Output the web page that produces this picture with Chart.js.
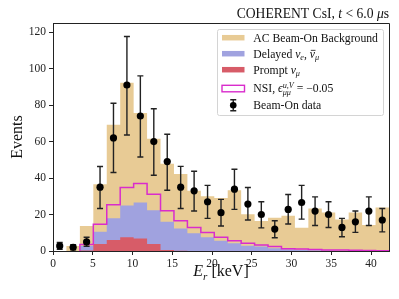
<!DOCTYPE html>
<html>
<head>
<meta charset="utf-8">
<script src="https://cdn.jsdelivr.net/npm/chart.js@4.4.1/dist/chart.umd.min.js"></script>
<style>
  html, body { margin: 0; padding: 0; background: #fff; }
  canvas { display: block; }
</style>
</head>
<body>
<canvas id="chart" width="399" height="299"></canvas>
<script>
// bin edges in keV (25 bins)
const binEdges = [0, 1.69, 3.38, 5.07, 6.76, 8.45, 10.14, 11.83, 13.52, 15.21, 16.9, 18.59, 20.28,
  21.97, 23.66, 25.35, 27.04, 28.73, 30.42, 32.11, 33.8, 35.49, 37.18, 38.87, 40.56, 42.25];

// stacked heights as drawn: background on top of delayed + prompt
const acBackgroundTop = [0, 2.7, 13.7, 36.6, 69.2, 92.2, 75.6, 61.6, 47.9, 42.2, 33, 30, 29,
  33.3, 20.2, 16.4, 18.2, 19.3, 12.7, 23.3, 21.1, 17.3, 21.1, 14.2, 23.9];
const delayedTop = [0, 0, 2.7, 10.6, 18, 25, 26.6, 22.4, 16, 12.4, 9.7, 7.5, 5.6,
  4.2, 2.9, 2.4, 1.5, 0.9, 0.6, 0.4, 0.3, 0.2, 0.1, 0.1, 0.05];
const promptNuMu = [0, 0, 0.3, 3.8, 6, 7.6, 6.9, 3.8, 0.6, 0.1, 0, 0, 0,
  0, 0, 0, 0, 0, 0, 0, 0, 0, 0, 0, 0];
const nsiPrediction = [null, null, 3.6, 14.6, 25.3, 34.8, 37, 31.1, 22, 16.6, 12.9, 10.2, 7.5,
  5.6, 4.2, 3.3, 2.4, 1.3, 1.1, 0.8, 0.6, 0.5, 0.4, 0.3, 0.2];

// beam-on data with asymmetric errors
const beamOnData = [2.8, 2, 5, 35, 62, 91, 74, 60, 49, 35, 33, 27, 21,
  33.9, 25.7, 20, 12, 22.8, 26.6, 21.9, 20, 12.9, 16, 21.9, 17];
const errUp = [1.9, 1.4, 2.5, 11.3, 19, 26.6, 22, 18, 15, 11.4, 10.7, 9, 7.3,
  10.9, 9.1, 7, 4.6, 8.2, 9.4, 7.8, 7, 5, 5.9, 7.8, 6.3];
const errDown = [1.9, 1.4, 2.4, 11.7, 19, 27.4, 22.5, 18.5, 15.7, 11.7, 11.1, 9.1, 7.3,
  11.1, 8.7, 7.3, 4.7, 8, 9.1, 7.9, 7.1, 5.1, 5.8, 7.9, 6.5];

const xTicks = [0, 5, 10, 15, 20, 25, 30, 35, 40];
const yTicks = [0, 20, 40, 60, 80, 100, 120];

const SERIF = '"Liberation Serif", "DejaVu Serif", serif';
const C_TAN = '#e8cb95';
const C_BLUE = '#a0a2df';
const C_RED = '#d75c68';
const C_MAG = '#d92ccc';

// left-edge points + closing right edge, drawn with stepped 'before'
function steps(vals) {
  const pts = [];
  let started = false;
  vals.forEach((v, i) => {
    if (v === null) return;
    if (!started && i > 0) pts.push({ x: binEdges[i], y: 0 });
    started = true;
    pts.push({ x: binEdges[i], y: v });
  });
  pts.push({ x: binEdges[vals.length], y: vals[vals.length - 1] });
  return pts;
}

const centers = beamOnData.map((v, i) => ({ x: (binEdges[i] + binEdges[i + 1]) / 2, y: v }));

// text with italic / sub / sup pieces
function richWidth(ctx, parts, size) {
  let w = 0, lastStart = 0, lastW = 0;
  parts.forEach(p => {
    const s = (p.sub || p.sup) ? size * 0.7 : size;
    ctx.font = (p.it ? 'italic ' : '') + s + 'px ' + SERIF;
    const pw = ctx.measureText(p.t).width;
    if (p.under) { w = lastStart + Math.max(lastW, pw); lastW = Math.max(lastW, pw); return; }
    lastStart = w; lastW = pw; w += pw;
  });
  return w;
}
function drawRich(ctx, parts, x, y, size, align) {
  const total = richWidth(ctx, parts, size);
  let cx = align === 'right' ? x - total : align === 'center' ? x - total / 2 : x;
  let lastStart = cx, lastW = 0;
  ctx.textBaseline = 'alphabetic';
  ctx.textAlign = 'left';
  parts.forEach(p => {
    const s = (p.sub || p.sup) ? size * 0.7 : size;
    ctx.font = (p.it ? 'italic ' : '') + s + 'px ' + SERIF;
    const pw = ctx.measureText(p.t).width;
    let dy = p.sub ? size * 0.22 : p.sup ? -size * 0.4 : 0;
    let px = p.under ? lastStart : cx;
    ctx.fillText(p.t, px, y + dy);
    if (p.bar) {
      ctx.save();
      ctx.lineWidth = 0.8;
      ctx.beginPath();
      ctx.moveTo(px + 1, y + dy - s * 0.62);
      ctx.lineTo(px + pw + 0.5, y + dy - s * 0.62);
      ctx.stroke();
      ctx.restore();
    }
    if (p.under) { cx = lastStart + Math.max(lastW, pw); return; }
    lastStart = cx; lastW = pw; cx += pw;
  });
}

const errorBars = {
  id: 'errorBars',
  beforeDatasetDraw(chart, args) {
    if (chart.data.datasets[args.index].label !== 'Beam-On data') return;
    const { ctx, scales: { x, y } } = chart;
    ctx.save();
    ctx.strokeStyle = '#222';
    ctx.lineWidth = 1.4;
    centers.forEach((p, i) => {
      const px = x.getPixelForValue(p.x);
      const top = y.getPixelForValue(p.y + errUp[i]);
      const bot = y.getPixelForValue(p.y - errDown[i]);
      ctx.beginPath();
      ctx.moveTo(px, top); ctx.lineTo(px, bot);
      ctx.moveTo(px - 3, top); ctx.lineTo(px + 3, top);
      ctx.moveTo(px - 3, bot); ctx.lineTo(px + 3, bot);
      ctx.stroke();
    });
    ctx.restore();
  }
};

const decorations = {
  id: 'decorations',
  afterDraw(chart) {
    const { ctx, chartArea: a } = chart;
    ctx.save();
    // frame top and right
    ctx.strokeStyle = '#222';
    ctx.lineWidth = 1;
    ctx.beginPath();
    ctx.moveTo(a.left, a.top + 0.5); ctx.lineTo(a.right + 0.5, a.top + 0.5);
    ctx.lineTo(a.right + 0.5, a.bottom);
    ctx.stroke();

    ctx.fillStyle = '#111';
    ctx.strokeStyle = '#111';
    // title
    drawRich(ctx, [{ t: 'COHERENT CsI, ' }, { t: 't', it: true }, { t: ' < 6.0 ' }, { t: 'μ', it: true }, { t: 's' }],
      a.right, 17.5, 13.6, 'right');
    // axis titles
    drawRich(ctx, [{ t: 'E', it: true }, { t: 'r', it: true, sub: true }, { t: ' [keV]' }],
      (a.left + a.right) / 2, 276, 16, 'center');
    ctx.save();
    ctx.translate(21.5, (a.top + a.bottom) / 2);
    ctx.rotate(-Math.PI / 2);
    drawRich(ctx, [{ t: 'Events' }], 0, 0, 16, 'center');
    ctx.restore();

    // legend
    const L = 217.5, T = 29.5, W = 166, H = 86;
    ctx.beginPath();
    ctx.roundRect(L, T, W, H, 2);
    ctx.fillStyle = 'rgba(255,255,255,0.85)';
    ctx.fill();
    ctx.strokeStyle = '#d4d4d4';
    ctx.lineWidth = 1;
    ctx.stroke();

    const px0 = 222, pw = 22.5, ph = 5.5, tx = 253.3, fs = 11.7;
    const rows = [
      { c: 37.7, kind: C_TAN, text: [{ t: 'AC Beam-On Background' }] },
      { c: 53.7, kind: C_BLUE, text: [{ t: 'Delayed ' }, { t: 'ν', it: true }, { t: 'e', it: true, sub: true }, { t: ', ' }, { t: 'ν', it: true, bar: true }, { t: 'μ', it: true, sub: true }] },
      { c: 69.7, kind: C_RED, text: [{ t: 'Prompt ' }, { t: 'ν', it: true }, { t: 'μ', it: true, sub: true }] },
      { c: 88.3, kind: 'nsi', text: [{ t: 'NSI, ' }, { t: 'ϵ', it: true }, { t: 'u,V', it: true, sup: true }, { t: 'μμ', it: true, sub: true, under: true }, { t: ' = −0.05' }] },
      { c: 105.3, kind: 'data', text: [{ t: 'Beam-On data' }] }
    ];
    rows.forEach(r => {
      if (r.kind === 'nsi') {
        ctx.fillStyle = '#fff';
        ctx.fillRect(px0, r.c - 3, pw, 6.5);
        ctx.strokeStyle = C_MAG;
        ctx.lineWidth = 1.4;
        ctx.strokeRect(px0, r.c - 3, pw, 6.5);
      } else if (r.kind === 'data') {
        const mx = px0 + pw / 2;
        ctx.strokeStyle = '#222';
        ctx.lineWidth = 1.4;
        ctx.beginPath();
        ctx.moveTo(mx, r.c - 5.5); ctx.lineTo(mx, r.c + 5.5);
        ctx.moveTo(mx - 3, r.c - 5.5); ctx.lineTo(mx + 3, r.c - 5.5);
        ctx.moveTo(mx - 3, r.c + 5.5); ctx.lineTo(mx + 3, r.c + 5.5);
        ctx.stroke();
        ctx.fillStyle = '#000';
        ctx.beginPath();
        ctx.arc(mx, r.c, 3.3, 0, Math.PI * 2);
        ctx.fill();
      } else {
        ctx.fillStyle = r.kind;
        ctx.fillRect(px0, r.c - ph / 2, pw, ph);
      }
      ctx.fillStyle = '#111';
      ctx.strokeStyle = '#111';
      drawRich(ctx, r.text, tx, r.c + 3.9, fs, 'left');
    });
    ctx.restore();
  }
};

const histLine = (label, vals, color, fillColor, order) => ({
  type: 'line',
  label,
  data: steps(vals),
  stepped: 'before',
  borderColor: color,
  borderWidth: fillColor ? 0 : 1.5,
  backgroundColor: fillColor || 'transparent',
  fill: fillColor ? 'origin' : false,
  pointRadius: 0,
  order
});

new Chart(document.getElementById('chart'), {
  data: {
    datasets: [
      histLine('AC Beam-On Background', acBackgroundTop, C_TAN, C_TAN, 5),
      histLine('Delayed', delayedTop, C_BLUE, C_BLUE, 4),
      histLine('Prompt', promptNuMu, C_RED, C_RED, 3),
      histLine('NSI', nsiPrediction, C_MAG, null, 2),
      {
        type: 'scatter',
        label: 'Beam-On data',
        data: centers,
        pointRadius: 3.6,
        pointBackgroundColor: '#000',
        pointBorderWidth: 0,
        order: 1
      }
    ]
  },
  options: {
    responsive: false,
    animation: false,
    events: [],
    layout: { padding: { left: 0, right: 10, top: 23, bottom: 0 } },
    plugins: { legend: { display: false }, tooltip: { enabled: false } },
    scales: {
      x: {
        type: 'linear',
        min: 0,
        max: 42.25,
        afterFit: s => { s.height = 48; },
        afterBuildTicks: s => { s.ticks = xTicks.map(v => ({ value: v })); },
        ticks: { font: { family: SERIF, size: 11.5 }, color: '#222', padding: 2, maxRotation: 0 },
        grid: { drawOnChartArea: false, drawTicks: true, tickLength: 4, tickColor: '#222' },
        border: { display: true, color: '#222', width: 1 }
      },
      y: {
        type: 'linear',
        min: 0,
        max: 125,
        afterFit: s => { s.width = 53; },
        afterBuildTicks: s => { s.ticks = yTicks.map(v => ({ value: v })); },
        ticks: { font: { family: SERIF, size: 11.5 }, color: '#222', padding: 3 },
        grid: { drawOnChartArea: false, drawTicks: true, tickLength: 4, tickColor: '#222' },
        border: { display: true, color: '#222', width: 1 }
      }
    }
  },
  plugins: [errorBars, decorations]
});
</script>
</body>
</html>
